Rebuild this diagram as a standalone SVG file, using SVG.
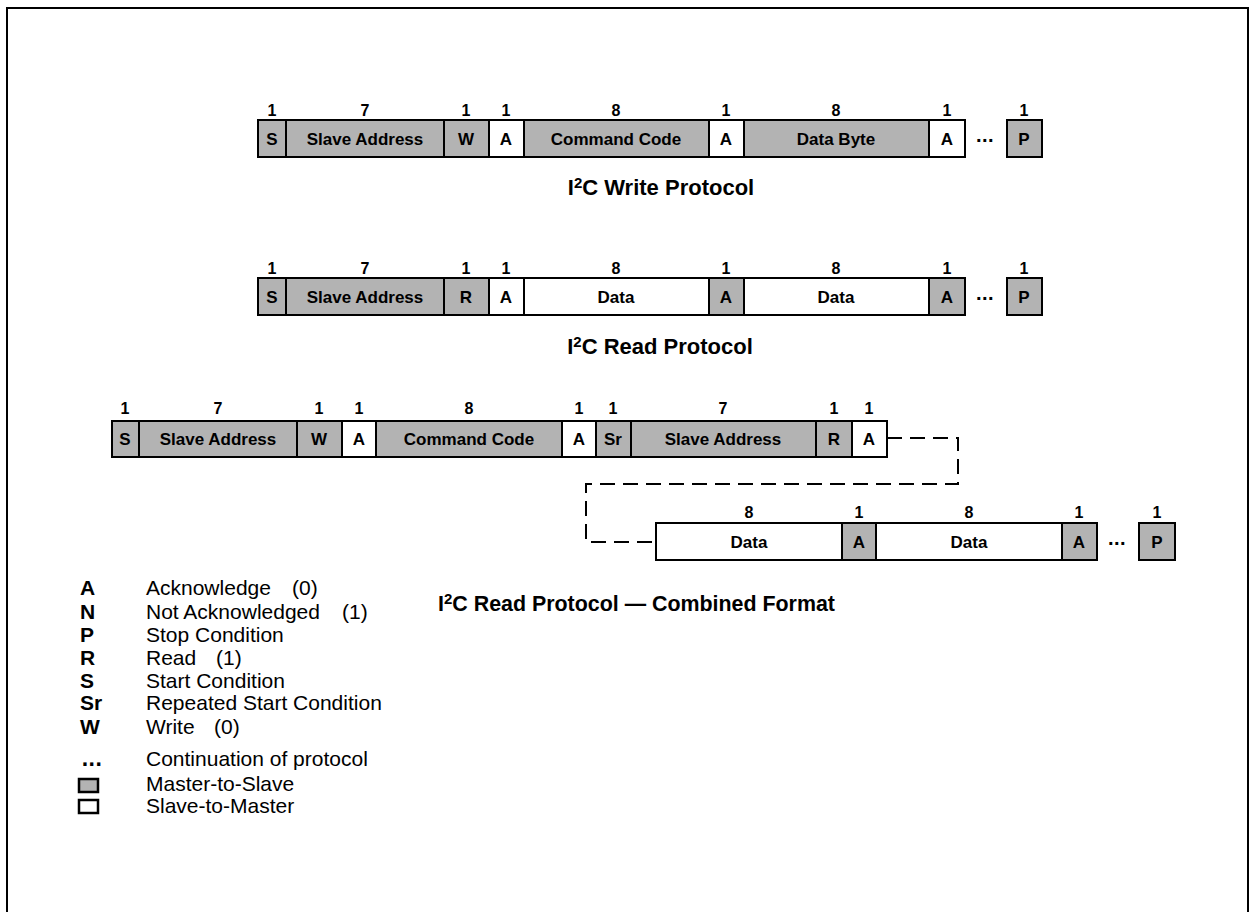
<svg xmlns="http://www.w3.org/2000/svg" width="1250" height="912" viewBox="0 0 1250 912">
<style>
.g{fill:#b3b3b3;stroke:#000;stroke-width:2}
.w{fill:#fff;stroke:#000;stroke-width:2}
.l{font-family:"Liberation Sans",Arial,sans-serif;font-weight:bold;font-size:17px;text-anchor:middle;fill:#000}
.n{font-family:"Liberation Sans",Arial,sans-serif;font-weight:bold;font-size:16px;text-anchor:middle;fill:#000}
.t{font-family:"Liberation Sans",Arial,sans-serif;font-weight:bold;font-size:22px;fill:#000}
.k{font-family:"Liberation Sans",Arial,sans-serif;font-weight:bold;font-size:21px;fill:#000}
.d{font-family:"Liberation Sans",Arial,sans-serif;font-size:21px;fill:#000}
.dots{font-family:"Liberation Sans",Arial,sans-serif;font-weight:bold;font-size:20px;letter-spacing:0.5px;text-anchor:middle;fill:#000}
.c{fill:none;stroke:#000;stroke-width:2;stroke-dasharray:15 8}
</style>
<rect x="7" y="8" width="1241" height="1000" fill="none" stroke="#000" stroke-width="2"/>

<g id="write-protocol">
<g id="w-nums">
<text class="n" x="272" y="116">1</text><text class="n" x="365" y="116">7</text><text class="n" x="466" y="116">1</text><text class="n" x="506" y="116">1</text><text class="n" x="616" y="116">8</text><text class="n" x="726" y="116">1</text><text class="n" x="836" y="116">8</text><text class="n" x="947" y="116">1</text><text class="n" x="1024" y="116">1</text>
</g>
<g id="w-S"><rect class="g" x="258" y="120" width="28" height="37"/><text class="l" x="272" y="145">S</text></g>
<g id="w-SA"><rect class="g" x="286" y="120" width="158" height="37"/><text class="l" x="365" y="145">Slave Address</text></g>
<g id="w-W"><rect class="g" x="444" y="120" width="45" height="37"/><text class="l" x="466" y="145">W</text></g>
<g id="w-A1"><rect class="w" x="489" y="120" width="35" height="37"/><text class="l" x="506" y="145">A</text></g>
<g id="w-CC"><rect class="g" x="524" y="120" width="185" height="37"/><text class="l" x="616" y="145">Command Code</text></g>
<g id="w-A2"><rect class="w" x="709" y="120" width="35" height="37"/><text class="l" x="726" y="145">A</text></g>
<g id="w-DB"><rect class="g" x="744" y="120" width="185" height="37"/><text class="l" x="836" y="145">Data Byte</text></g>
<g id="w-A3"><rect class="w" x="929" y="120" width="36" height="37"/><text class="l" x="947" y="145">A</text></g>
<text class="dots" x="985" y="142">...</text>
<g id="w-P"><rect class="g" x="1007" y="120" width="35" height="37"/><text class="l" x="1024" y="145">P</text></g>
<text class="t" x="661" y="195" text-anchor="middle">I<tspan font-size="15" dy="-7">2</tspan><tspan dy="7">C Write Protocol</tspan></text>
</g>

<g id="read-protocol">
<g id="r-nums">
<text class="n" x="272" y="274">1</text><text class="n" x="365" y="274">7</text><text class="n" x="466" y="274">1</text><text class="n" x="506" y="274">1</text><text class="n" x="616" y="274">8</text><text class="n" x="726" y="274">1</text><text class="n" x="836" y="274">8</text><text class="n" x="947" y="274">1</text><text class="n" x="1024" y="274">1</text>
</g>
<g id="r-S"><rect class="g" x="258" y="278" width="28" height="37"/><text class="l" x="272" y="303">S</text></g>
<g id="r-SA"><rect class="g" x="286" y="278" width="158" height="37"/><text class="l" x="365" y="303">Slave Address</text></g>
<g id="r-R"><rect class="g" x="444" y="278" width="45" height="37"/><text class="l" x="466" y="303">R</text></g>
<g id="r-A1"><rect class="w" x="489" y="278" width="35" height="37"/><text class="l" x="506" y="303">A</text></g>
<g id="r-D1"><rect class="w" x="524" y="278" width="185" height="37"/><text class="l" x="616" y="303">Data</text></g>
<g id="r-A2"><rect class="g" x="709" y="278" width="35" height="37"/><text class="l" x="726" y="303">A</text></g>
<g id="r-D2"><rect class="w" x="744" y="278" width="185" height="37"/><text class="l" x="836" y="303">Data</text></g>
<g id="r-A3"><rect class="g" x="929" y="278" width="36" height="37"/><text class="l" x="947" y="303">A</text></g>
<text class="dots" x="985" y="300">...</text>
<g id="r-P"><rect class="g" x="1007" y="278" width="35" height="37"/><text class="l" x="1024" y="303">P</text></g>
<text class="t" x="660" y="354" text-anchor="middle">I<tspan font-size="15" dy="-7">2</tspan><tspan dy="7">C Read Protocol</tspan></text>
</g>

<g id="combined-protocol">
<g id="c-nums">
<text class="n" x="125" y="414">1</text><text class="n" x="218" y="414">7</text><text class="n" x="319" y="414">1</text><text class="n" x="359" y="414">1</text><text class="n" x="469" y="414">8</text><text class="n" x="579" y="414">1</text><text class="n" x="613" y="414">1</text><text class="n" x="723" y="414">7</text><text class="n" x="834" y="414">1</text><text class="n" x="869" y="414">1</text>
<text class="n" x="749" y="518">8</text><text class="n" x="859" y="518">1</text><text class="n" x="969" y="518">8</text><text class="n" x="1079" y="518">1</text><text class="n" x="1157" y="518">1</text>
</g>
<g id="c-S"><rect class="g" x="112" y="421" width="27" height="36"/><text class="l" x="125" y="445">S</text></g>
<g id="c-SA1"><rect class="g" x="139" y="421" width="158" height="36"/><text class="l" x="218" y="445">Slave Address</text></g>
<g id="c-W"><rect class="g" x="297" y="421" width="45" height="36"/><text class="l" x="319" y="445">W</text></g>
<g id="c-A1"><rect class="w" x="342" y="421" width="34" height="36"/><text class="l" x="359" y="445">A</text></g>
<g id="c-CC"><rect class="g" x="376" y="421" width="186" height="36"/><text class="l" x="469" y="445">Command Code</text></g>
<g id="c-A2"><rect class="w" x="562" y="421" width="34" height="36"/><text class="l" x="579" y="445">A</text></g>
<g id="c-Sr"><rect class="g" x="596" y="421" width="35" height="36"/><text class="l" x="613" y="445">Sr</text></g>
<g id="c-SA2"><rect class="g" x="631" y="421" width="185" height="36"/><text class="l" x="723" y="445">Slave Address</text></g>
<g id="c-R"><rect class="g" x="816" y="421" width="36" height="36"/><text class="l" x="834" y="445">R</text></g>
<g id="c-A3"><rect class="w" x="852" y="421" width="35" height="36"/><text class="l" x="869" y="445">A</text></g>
<g id="c-D1"><rect class="w" x="656" y="523" width="186" height="37"/><text class="l" x="749" y="548">Data</text></g>
<g id="c-A4"><rect class="g" x="842" y="523" width="34" height="37"/><text class="l" x="859" y="548">A</text></g>
<g id="c-D2"><rect class="w" x="876" y="523" width="186" height="37"/><text class="l" x="969" y="548">Data</text></g>
<g id="c-A5"><rect class="g" x="1062" y="523" width="35" height="37"/><text class="l" x="1079" y="548">A</text></g>
<text class="dots" x="1117" y="545">...</text>
<g id="c-P"><rect class="g" x="1139" y="523" width="36" height="37"/><text class="l" x="1157" y="548">P</text></g>
<text class="t" x="438" y="611" style="font-size:21.4px">I<tspan style="font-size:15px" dy="-7">2</tspan><tspan dy="7">C Read Protocol — Combined Format</tspan></text>
</g>

<g id="connectors">
<path class="c" d="M887,438 H958 V484 H586 V542 H656"/>
</g>

<g id="legend">
<text class="k" x="80" y="595">A</text><text class="d" x="146" y="595">Acknowledge</text><text class="d" x="292" y="595">(0)</text>
<text class="k" x="80" y="619">N</text><text class="d" x="146" y="619">Not Acknowledged</text><text class="d" x="342" y="619">(1)</text>
<text class="k" x="80" y="642">P</text><text class="d" x="146" y="642">Stop Condition</text>
<text class="k" x="80" y="665">R</text><text class="d" x="146" y="665">Read</text><text class="d" x="216" y="665">(1)</text>
<text class="k" x="80" y="688">S</text><text class="d" x="146" y="688">Start Condition</text>
<text class="k" x="80" y="710">Sr</text><text class="d" x="146" y="710">Repeated Start Condition</text>
<text class="k" x="80" y="734">W</text><text class="d" x="146" y="734">Write</text><text class="d" x="214" y="734">(0)</text>
<text class="dots" x="92" y="766" style="font-size:23px">...</text><text class="d" x="146" y="766">Continuation of protocol</text>
<rect x="79" y="779" width="19" height="13" fill="#b3b3b3" stroke="#000" stroke-width="2.5"/><text class="d" x="146" y="791">Master-to-Slave</text>
<rect x="79" y="800" width="19" height="13" fill="#fff" stroke="#000" stroke-width="2.5"/><text class="d" x="146" y="813">Slave-to-Master</text>
</g>
</svg>
